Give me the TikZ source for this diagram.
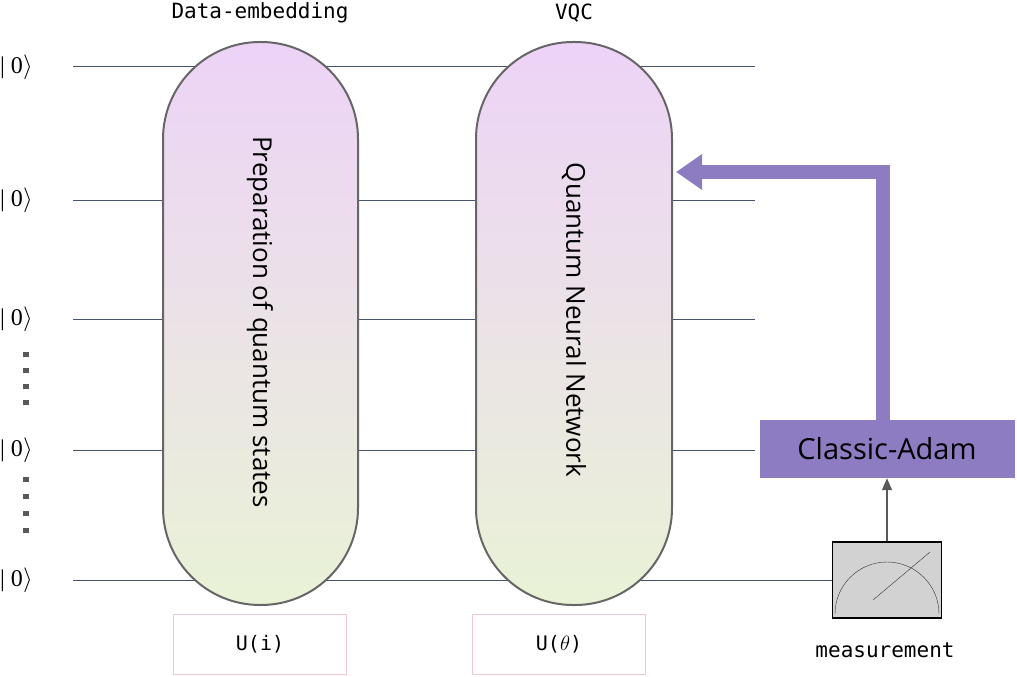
\documentclass[tikz,border=0pt]{standalone}
\usepackage{fontspec}
\setmainfont{Open Sans}
\newfontfamily\monof{DejaVu Sans Mono}
\newfontfamily\serf{Liberation Serif}
\usetikzlibrary{arrows.meta}
\definecolor{wirec}{HTML}{44546A}
\definecolor{adam}{HTML}{8E7CC3}
\definecolor{ptop}{HTML}{EDD3F7}
\definecolor{pbot}{HTML}{E9F2D6}
\tikzset{
 qwire/.style={draw=wirec,line width=1pt},
 pill/.style={draw=gray!80!black,line width=2pt,rounded corners=97pt,top color=ptop,bottom color=pbot},
 ket/.style={font=\serf\fontsize{24}{24}\selectfont,anchor=west,inner sep=0pt},
 ubox/.style={draw=pink!60!violet!40,line width=1pt,minimum width=173pt,minimum height=60pt,font=\monof\fontsize{20}{20}\selectfont},
 mono/.style={font=\monof\fontsize{21}{21}\selectfont},
}
\begin{document}
\begin{tikzpicture}[x=1pt,y=-1pt]
\useasboundingbox (0,0) rectangle (1017,677);
% wires
\foreach \n/\y in {a/67,b/200,c/319,d/450}{
 \node[ket] (k\n) at (0,\y) {| 0$\rangle$};
 \coordinate (e\n) at (755,\y);
 \draw[qwire] (73,\y) -- (e\n);
}
\node[ket] (ke) at (0,580) {| 0$\rangle$};
\node[draw=black,line width=1.5pt,fill=gray!35,minimum width=109pt,minimum height=76pt] (meas) at (887,580) {};
\draw[qwire] (73,580) -- (meas.west);
\draw[black!80] (835,614) arc[start angle=180,end angle=360,radius=52];
\draw[black!80] (873,600) -- (930,552);
\foreach \y in {352,368,384,400,477,494,511,528}
 \fill[gray!70!black] (23,\y) rectangle (29,\y+5);
% pills
\draw[pill] (163,42) rectangle (358,605);
\draw[pill] (476,42) rectangle (672,605);
\node[rotate=-90,font=\fontsize{26}{26}\selectfont] (t1) at (260,322) {Preparation of quantum states};
\node[rotate=-90,font=\fontsize{26}{26}\selectfont] (t2) at (574,320) {Quantum Neural Network};
\node[mono] (h1) at (260,13) {Data-embedding};
\node[mono] (h2) at (574,13) {VQC};
\node[ubox] (u1) at (260,644) {U(i)};
\node[ubox] (u2) at (559,644) {U($\theta$)};
% classic
\node[fill=adam,minimum width=255pt,minimum height=58pt,inner sep=0pt,font=\fontsize{29}{29}\selectfont] (adam) at (887,449) {Classic-Adam};
\coordinate (tgt) at (676,172);
\draw[adam,line width=14pt,-{Triangle[length=26pt,width=34pt]}] (adam.north -| 883,0) -- (883,172) -- (tgt);
\draw[black!65,line width=1.5pt,-{Triangle[length=12pt,width=10pt]}] (meas.north) -- (adam.south);
\node[mono] (ml) at (885,650) {measurement};
\end{tikzpicture}
\end{document}
